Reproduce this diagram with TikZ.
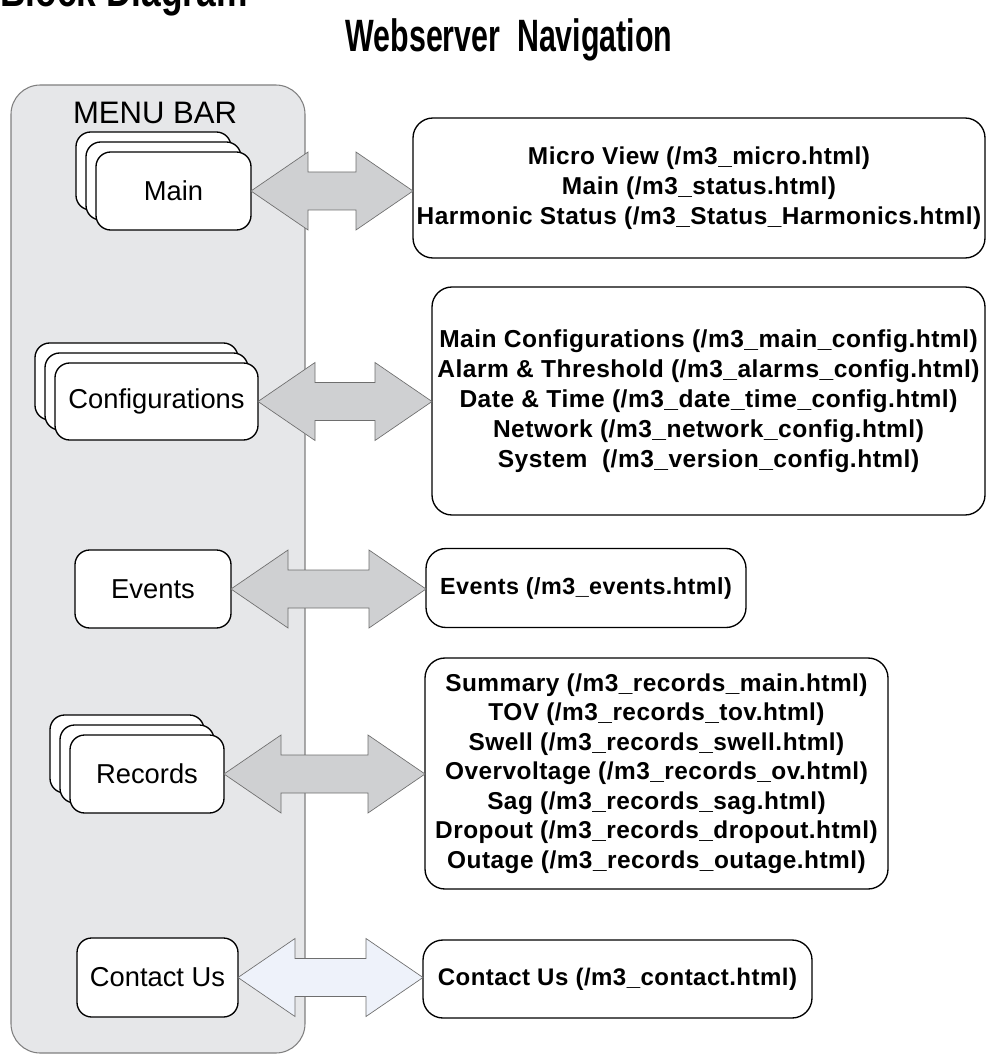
\documentclass[tikz,border=0pt]{standalone}
\usepackage{fontspec}
\setmainfont{Liberation Sans}
\newfontfamily\titlefont[FakeStretch=0.67]{Liberation Sans Bold}
\newfontfamily\headfont[FakeStretch=0.78]{Liberation Sans Bold}
\newfontfamily\boldfont[LetterSpace=2]{Liberation Sans Bold}
\usetikzlibrary{calc}
\definecolor{menufill}{RGB}{230,231,233}
\definecolor{menuline}{RGB}{128,128,128}
\definecolor{arrfill}{RGB}{207,208,210}
\definecolor{arrline}{RGB}{110,110,110}
\definecolor{lightarr}{RGB}{238,242,250}
\newcommand\biarrow[3]{%
  \coordinate (#1-#2-t) at (#2.west |- #1.east);
  \draw[arrowshape, fill=#3] (#1.east) -- ++(57,-39) -- ++(0,20)
    -- ($(#1-#2-t)+(-57,-19)$) -- ($(#1-#2-t)+(-57,-39)$) -- (#1-#2-t)
    -- ($(#1-#2-t)+(-57,39)$) -- ($(#1-#2-t)+(-57,19)$)
    -- ($(#1.east)+(57,19)$) -- ($(#1.east)+(57,39)$) -- cycle;}
\tikzset{
  menubox/.style={draw=black, line width=1pt, rounded corners=11pt, fill=white,
    inner sep=0pt, outer sep=0pt, font=\fontsize{20.5}{24}\selectfont},
  pagebox/.style={draw=black, line width=1pt, rounded corners=15pt, fill=white,
    inner sep=0pt, outer sep=0pt, align=center},
  pagetext/.style={font=\boldfont\fontsize{#1}{22.5}\selectfont},
  arrowshape/.style={draw=arrline, line width=0.5pt, line join=miter},
}
\begin{document}
\begin{tikzpicture}[x=0.75pt, y=-0.75pt]
\useasboundingbox (0,0) rectangle (987,1055);
% titles
\node[anchor=base west, inner sep=0pt, font=\headfont\fontsize{34}{40}\selectfont] (blocktitle) at (0,7) {Block Diagram};
\node[anchor=base, inner sep=0pt, font=\titlefont\fontsize{34}{40}\selectfont] (webtitle) at (509,52) {Webserver\ \ Navigation};
% menu bar
\node[draw=menuline, fill=menufill, line width=0.8pt, rounded corners=22pt,
  minimum width=220.5pt, minimum height=726pt, inner sep=0pt] (menubar) at (158,569) {};
\node[inner sep=0pt, font=\fontsize{23.3}{27}\selectfont] (menutitle) at (155,113) {MENU BAR};
% Main stack
\node[menubox, minimum width=116.25pt, minimum height=58.5pt] (mainC) at (153.5,171) {};
\node[menubox, minimum width=116.25pt, minimum height=58.5pt] (mainB) at (163.5,181) {};
\node[menubox, minimum width=116.25pt, minimum height=58.5pt] (main) at (173.5,191) {Main};
% Config stack
\node[menubox, minimum width=152.25pt, minimum height=57.75pt] (confC) at (136.5,381.5) {};
\node[menubox, minimum width=152.25pt, minimum height=57.75pt] (confB) at (146.5,391.5) {};
\node[menubox, minimum width=152.25pt, minimum height=57.75pt] (conf) at (156.5,401.5) {Configurations};
% Events
\node[menubox, minimum width=117pt, minimum height=58.5pt] (events) at (153,589) {Events};
% Records stack
\node[menubox, minimum width=115.5pt, minimum height=58.5pt] (recC) at (127,754) {};
\node[menubox, minimum width=115.5pt, minimum height=58.5pt] (recB) at (137,764) {};
\node[menubox, minimum width=115.5pt, minimum height=58.5pt] (rec) at (147,774) {Records};
% Contact
\node[menubox, minimum width=120.75pt, minimum height=59.25pt] (contact) at (157.5,977.5) {Contact Us};
% right page boxes
\node[pagebox, pagetext=18.3, minimum width=429pt, minimum height=105pt] (pmain) at (699,188)
  {Micro View (/m3\_micro.html)\\Main (/m3\_status.html)\\Harmonic Status (/m3\_Status\_Harmonics.html)};
\node[pagebox, pagetext=18.4, minimum width=414.75pt, minimum height=171pt] (pconf) at (708.5,401)
  {Main Configurations (/m3\_main\_config.html)\\Alarm \& Threshold (/m3\_alarms\_config.html)\\Date \& Time (/m3\_date\_time\_config.html)\\Network (/m3\_network\_config.html)\\System\ \ (/m3\_version\_config.html)};
\node[pagebox, pagetext=17.5, minimum width=240pt, minimum height=59.25pt] (pevents) at (586,588)
  {Events (/m3\_events.html)};
\node[pagebox, font=\boldfont\fontsize{18.3}{22.1}\selectfont, minimum width=347.25pt, minimum height=173.25pt] (prec) at (656.5,773.5)
  {Summary (/m3\_records\_main.html)\\TOV (/m3\_records\_tov.html)\\Swell (/m3\_records\_swell.html)\\Overvoltage (/m3\_records\_ov.html)\\Sag (/m3\_records\_sag.html)\\Dropout (/m3\_records\_dropout.html)\\Outage (/m3\_records\_outage.html)};
\node[pagebox, pagetext=18, minimum width=291.75pt, minimum height=58.5pt] (pcontact) at (617.5,979)
  {Contact Us (/m3\_contact.html)};
% arrows
\biarrow{main}{pmain}{arrfill}
\biarrow{conf}{pconf}{arrfill}
\biarrow{events}{pevents}{arrfill}
\biarrow{rec}{prec}{arrfill}
\biarrow{contact}{pcontact}{lightarr}
\end{tikzpicture}
\end{document}
